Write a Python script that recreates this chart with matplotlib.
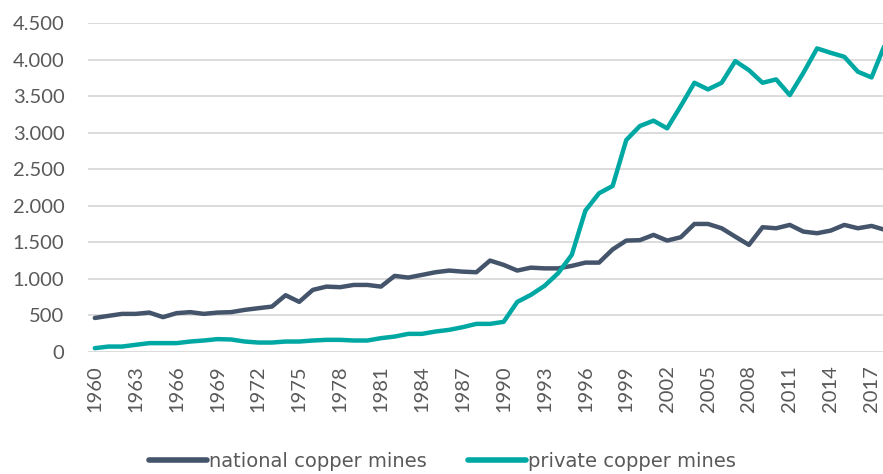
import matplotlib
matplotlib.use("Agg")
import matplotlib.pyplot as plt
from matplotlib.ticker import FuncFormatter

years = list(range(1960, 2019))

national = [
    460, 489, 516, 516, 534, 471, 526, 540, 516, 534,
    540, 571, 594, 616, 772, 681, 845, 890, 882, 913,
    913, 890, 1037, 1014, 1050, 1087, 1110, 1095, 1087, 1247,
    1188, 1110, 1150, 1140, 1140, 1174, 1219, 1219, 1400, 1521,
    1527, 1599, 1521, 1567, 1749, 1749, 1690, 1575, 1462, 1704,
    1690, 1736, 1644, 1622, 1658, 1736, 1690, 1722, 1667,
]

private = [
    46, 68, 68, 92, 115, 115, 115, 137, 151, 170,
    165, 137, 123, 123, 137, 137, 151, 160, 160, 151,
    151, 183, 205, 242, 242, 274, 297, 334, 379, 379,
    407, 680, 777, 900, 1074, 1325, 1932, 2170, 2270, 2900,
    3092, 3165, 3060, 3366, 3685, 3594, 3685, 3982, 3858, 3685,
    3731, 3516, 3822, 4156, 4096, 4041, 3836, 3758, 4220,
]

series_names = ["national copper mines", "private copper mines"]
colors = ["#44546A", "#00A8A3"]
label_color = "#595959"

fig = plt.figure(figsize=(8.83, 4.74), dpi=100)
ax = fig.add_axes([88 / 883, 0.2584, 804 / 883, 0.6924])

for vals, name, c in zip([national, private], series_names, colors):
    ax.plot(years, vals, color=c, lw=3.2, label=name,
            solid_joinstyle="round", solid_capstyle="round")

ax.set_xlim(1959.5, 2018.5)
ax.set_ylim(0, 4500)
ax.set_yticks(range(0, 4501, 500))
ax.yaxis.set_major_formatter(FuncFormatter(lambda v, p: f"{int(v):,}".replace(",", ".")))
ax.set_xticks(range(1960, 2018, 3))
ax.tick_params(axis="x", rotation=90, length=0, pad=10)
ax.tick_params(axis="y", length=0, pad=17)
for lab in ax.get_xticklabels() + ax.get_yticklabels():
    lab.set_family(["Lato", "DejaVu Sans"])
    lab.set_fontsize(14.5)
    lab.set_color(label_color)

ax.grid(axis="y", color="#D9D9D9", lw=1.3)
ax.set_axisbelow(True)
for s in ax.spines.values():
    s.set_visible(False)

leg = fig.legend(loc="center", bbox_to_anchor=(0.501, 0.027), ncol=2, frameon=False,
                 handlelength=3.0, handletextpad=0.1, columnspacing=2.1,
                 prop={"family": ["Liberation Sans Narrow", "DejaVu Sans"], "size": 14})
for t in leg.get_texts():
    t.set_color(label_color)
for h in leg.legend_handles:
    h.set_linewidth(4)

fig.savefig("out.png", dpi=100)
